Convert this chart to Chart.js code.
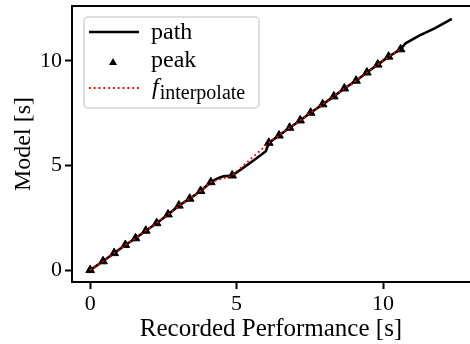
<!DOCTYPE html>
<html>
<head>
<meta charset="utf-8">
<script src="https://cdn.jsdelivr.net/npm/chart.js@4/dist/chart.umd.min.js"></script>
<style>
  html, body { margin: 0; padding: 0; background: #fff; overflow: hidden; }
  #wrap { width: 470px; height: 344px; overflow: hidden; }
</style>
</head>
<body>
<div id="wrap"><canvas id="myChart" width="476" height="344"></canvas></div>
<script>
// path of the model vs recorded performance
const pathX = [0, 0.44, 0.82, 1.2, 1.55, 1.9, 2.27, 2.66, 3.03, 3.4, 3.77, 4.12, 4.35, 4.55, 4.85, 5.2, 5.6, 6.0, 6.1, 6.45, 6.81, 7.17, 7.53, 7.94, 8.32, 8.68, 9.08, 9.45, 9.82, 10.19, 10.6, 10.77, 11.22, 11.78, 12.35]
const pathY = [0, 0.42, 0.81, 1.2, 1.52, 1.88, 2.24, 2.66, 3.08, 3.41, 3.78, 4.2, 4.38, 4.48, 4.52, 4.86, 5.26, 5.68, 6.08, 6.43, 6.8, 7.15, 7.52, 7.92, 8.3, 8.68, 9.05, 9.44, 9.82, 10.2, 10.55, 10.84, 11.19, 11.56, 12.0]

// detected peaks (also used for the interpolation)
const peakX = [0, 0.44, 0.82, 1.2, 1.55, 1.9, 2.27, 2.66, 3.03, 3.4, 3.77, 4.12, 4.85, 6.1, 6.45, 6.81, 7.17, 7.53, 7.94, 8.32, 8.68, 9.08, 9.45, 9.82, 10.19, 10.6]
const peakY = [0, 0.42, 0.81, 1.2, 1.52, 1.88, 2.24, 2.66, 3.08, 3.41, 3.78, 4.2, 4.52, 6.08, 6.43, 6.8, 7.15, 7.52, 7.92, 8.3, 8.68, 9.05, 9.44, 9.82, 10.2, 10.55]

const xTicks = [0, 5, 10]
const yTicks = [0, 5, 10]

const FONT = "'Liberation Serif', 'DejaVu Serif', serif"

const toPts = (xs, ys) => xs.map((x, i) => ({ x: x, y: ys[i] }))

// top spine + legend box
const framePlugin = {
    id: 'frame',
    afterDatasetsDraw(chart) {
        const ctx = chart.ctx
        const a = chart.chartArea
        ctx.save()
        ctx.strokeStyle = '#000'
        ctx.lineWidth = 2
        ctx.beginPath()
        ctx.moveTo(a.left - 1, a.top)
        ctx.lineTo(a.right, a.top)
        ctx.stroke()

        // legend
        const bx = 84, by = 17, bw = 175, bh = 91, r = 4
        ctx.beginPath()
        ctx.roundRect(bx, by, bw, bh, r)
        ctx.fillStyle = 'rgba(255,255,255,0.8)'
        ctx.fill()
        ctx.strokeStyle = '#d4d4d4'
        ctx.lineWidth = 1.5
        ctx.stroke()

        // path
        ctx.strokeStyle = '#000'
        ctx.lineWidth = 2.5
        ctx.beginPath()
        ctx.moveTo(89, 32)
        ctx.lineTo(139, 32)
        ctx.stroke()
        // peak
        ctx.fillStyle = '#000'
        ctx.beginPath()
        ctx.moveTo(113, 58)
        ctx.lineTo(117, 65)
        ctx.lineTo(109, 65)
        ctx.closePath()
        ctx.fill()
        // interpolate
        ctx.strokeStyle = 'red'
        ctx.lineWidth = 1.8
        ctx.setLineDash([1.8, 3])
        ctx.beginPath()
        ctx.moveTo(89, 88)
        ctx.lineTo(139, 88)
        ctx.stroke()
        ctx.setLineDash([])

        ctx.fillStyle = '#000'
        ctx.textBaseline = 'alphabetic'
        ctx.textAlign = 'left'
        ctx.font = '24px ' + FONT
        ctx.fillText('path', 151, 39)
        ctx.fillText('peak', 151, 67)
        ctx.font = 'italic 24px ' + FONT
        ctx.fillText('f', 152, 94)
        const fw = ctx.measureText('f').width
        ctx.font = '20px ' + FONT
        ctx.fillText('interpolate', 152 + fw + 1, 99)
        ctx.restore()
    }
}

const data = {
    datasets: [{
        label: 'f_interpolate',
        data: toPts(peakX, peakY),
        showLine: true,
        borderColor: 'red',
        borderWidth: 1.8,
        borderDash: [1.8, 3],
        pointRadius: 0,
        fill: false,
        order: 1
    }, {
        label: 'peak',
        data: toPts(peakX, peakY),
        showLine: false,
        pointStyle: 'triangle',
        pointRadius: 5,
        backgroundColor: '#000',
        borderColor: '#000',
        borderWidth: 1,
        order: 2
    }, {
        label: 'path',
        data: toPts(pathX, pathY),
        showLine: true,
        borderColor: '#000',
        borderWidth: 2.6,
        pointRadius: 0,
        fill: false,
        order: 3
    }]
}

const config = {
    type: 'scatter',
    data: data,
    plugins: [framePlugin],
    options: {
        responsive: false,
        animation: false,
        layout: { padding: { top: 5, right: 1, bottom: 0, left: 0 } },
        plugins: {
            legend: { display: false },
            tooltip: { enabled: false }
        },
        elements: { line: { tension: 0 } },
        scales: {
            x: {
                type: 'linear',
                min: -0.62,
                max: 12.97,
                afterFit: s => { s.height = 62; s.paddingLeft = 0; s.paddingRight = 0 },
                afterBuildTicks: s => { s.ticks = xTicks.map(v => ({ value: v })) },
                title: {
                    display: true,
                    text: 'Recorded Performance [s]',
                    color: '#000',
                    font: { family: FONT, size: 25 },
                    padding: { top: 0, bottom: 0 }
                },
                ticks: {
                    color: '#000',
                    font: { family: FONT, size: 22 },
                    padding: 2,
                    maxRotation: 0
                },
                grid: {
                    drawOnChartArea: false,
                    drawTicks: true,
                    tickLength: 7,
                    tickWidth: 2,
                    tickColor: '#000'
                },
                border: { display: true, color: '#000', width: 2 }
            },
            y: {
                type: 'linear',
                min: -0.57,
                max: 12.62,
                afterFit: s => { s.width = 72; s.paddingTop = 0; s.paddingBottom = 0 },
                afterBuildTicks: s => { s.ticks = yTicks.map(v => ({ value: v })) },
                title: {
                    display: true,
                    text: 'Model [s]',
                    color: '#000',
                    font: { family: FONT, size: 24 },
                    padding: { top: 9, bottom: 0 }
                },
                ticks: {
                    color: '#000',
                    font: { family: FONT, size: 22 },
                    padding: 3
                },
                grid: {
                    drawOnChartArea: false,
                    drawTicks: true,
                    tickLength: 7,
                    tickWidth: 2,
                    tickColor: '#000'
                },
                border: { display: true, color: '#000', width: 2 }
            }
        }
    }
}

const ctx = document.getElementById('myChart').getContext('2d')
new Chart(ctx, config)
</script>
</body>
</html>
